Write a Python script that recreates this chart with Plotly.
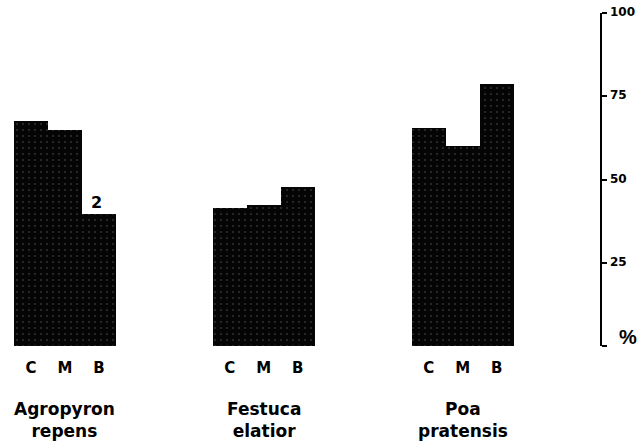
import plotly.graph_objects as go

species = ["Agropyron<br>repens", "Festuca<br>elatior", "Poa<br>pratensis"]
treatments = ["C", "M", "B"]
values = [
    [67.5, 64.8, 39.5],
    [41.3, 42.2, 47.6],
    [65.4, 60.2, 78.6],
]
bar_note = {"group": 0, "bar": 2, "text": "2"}
y_tickvals = [0, 25, 50, 75, 100]
y_ticktext = ["%", "25", "50", "75", "100"]

FONT = "DejaVu Sans"
group_step = 5.85
xs, ys, xt, xl = [], [], [], []
for g, vals in enumerate(values):
    for i, v in enumerate(vals):
        xc = g * group_step + i + 0.5
        xs.append(xc)
        ys.append(v)
        xt.append(xc)
        xl.append("<b>" + treatments[i] + "</b>")

fig = go.Figure()
fig.add_trace(go.Bar(
    x=xs, y=ys, width=1.0,
    marker=dict(color="#050505", line=dict(width=0),
                pattern=dict(shape=".", fgcolor="#555555", bgcolor="#050505",
                             size=6, solidity=0.1)),
    showlegend=False, hoverinfo="skip",
))

annotations = []
ng = bar_note["group"]; nb = bar_note["bar"]
annotations.append(dict(
    x=ng * group_step + nb + 0.5, y=values[ng][nb], xref="x", yref="y",
    text="<b>" + bar_note["text"] + "</b>", showarrow=False, yanchor="bottom",
    font=dict(size=16, color="black", family=FONT), yshift=0, xshift=-2,
))
for g, name in enumerate(species):
    annotations.append(dict(
        x=g * group_step + 1.5, y=0, xref="x", yref="y",
        text="<b>" + name + "</b>", showarrow=False, yanchor="top",
        yshift=-51, font=dict(size=17, color="black", family=FONT),
    ))
# right-hand axis labels, placed at the axis tick values
for v, t in zip(y_tickvals, y_ticktext):
    if v == 0:
        annotations.append(dict(
            x=1, y=v, xref="paper", yref="y", text="<b>" + t + "</b>",
            showarrow=False, xanchor="center", yanchor="middle", xshift=28, yshift=9,
            font=dict(size=20, color="black", family="Liberation Sans"),
        ))
    else:
        annotations.append(dict(
            x=1, y=v, xref="paper", yref="y", text="<b>" + t + "</b>",
            showarrow=False, xanchor="left", yanchor="middle", xshift=8, yshift=1,
            font=dict(size=12, color="black", family=FONT),
        ))

fig.update_layout(
    width=639, height=444,
    margin=dict(l=14, r=39, t=13, b=98),
    paper_bgcolor="white", plot_bgcolor="white",
    bargap=0,
    annotations=annotations,
    xaxis=dict(range=[0, 17.24], tickvals=xt, ticktext=xl, showgrid=False,
               zeroline=False, showline=False, ticks="outside", ticklen=8,
               tickcolor="rgba(0,0,0,0)",
               tickfont=dict(size=15, color="black", family=FONT)),
    yaxis=dict(range=[0, 100], side="right", tickvals=y_tickvals,
               showticklabels=False,
               showgrid=False, zeroline=False, showline=True, linecolor="black",
               linewidth=2, ticks="outside", ticklen=5, tickwidth=2, tickcolor="black"),
)
# remove the browser's default 8px page margin so the figure fills the window exactly
fig.write_html("out.html", config={"displayModeBar": False},
               post_script="document.body.style.margin='0';document.body.style.overflow='hidden';")
